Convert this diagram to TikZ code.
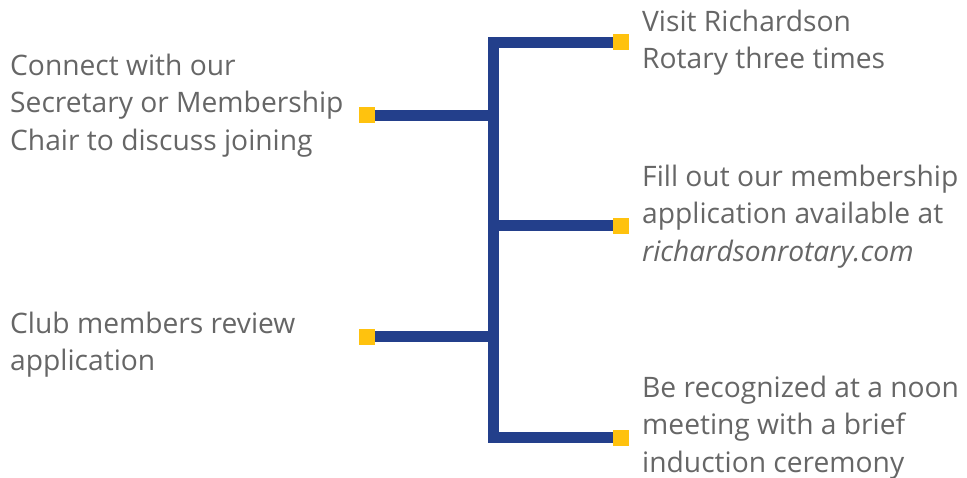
\documentclass[tikz,border=0pt]{standalone}
\usepackage{fontspec}
\setmainfont{Open Sans}
\definecolor{rblue}{HTML}{233F8B}
\definecolor{ryellow}{HTML}{FFC20E}
\definecolor{rgrey}{HTML}{666666}
\begin{document}
\begin{tikzpicture}[x=1pt,y=-1pt,
  sq/.style={fill=ryellow,draw=none,minimum size=16pt,inner sep=0pt},
  bar/.style={draw=rblue,line width=11pt,line join=miter},
  lbl/.style={text=rgrey,font=\fontsize{28.2}{37.5}\selectfont,align=left,anchor=west,inner sep=0pt}]
\useasboundingbox (0,0) rectangle (967,478);
\node[sq] (r1) at (621,42.5) {};
\node[sq] (r2) at (621,226) {};
\node[sq] (r3) at (621,437.5) {};
\node[sq] (l1) at (366.5,115.5) {};
\node[sq] (l2) at (366.5,337) {};
\coordinate (jt) at (493,42.5);
\coordinate (jb) at (493,437.5);
\coordinate (j2) at (493,226);
\coordinate (jl1) at (498.5,115.5);
\coordinate (jl2) at (498.5,337);
\draw[bar] (r1.west) -- (jt) -- (jb) -- (r3.west);
\draw[bar] (j2) -- (r2.west);
\draw[bar] (l1.east) -- (jl1);
\draw[bar] (l2.east) -- (jl2);
\node[lbl] (t1) at (10,105.5) {Connect with our\\Secretary or Membership\\Chair to discuss joining};
\node[lbl] (t2) at (10,344.5) {Club members review\\application};
\node[lbl] (t3) at (642,42.5) {Visit Richardson\\Rotary three times};
\node[lbl] (t4) at (642,216.5) {Fill out our membership\\application available at\\\textit{richardsonrotary.com}};
\node[lbl] (t5) at (642,427.5) {Be recognized at a noon\\meeting with a brief\\induction ceremony};
\end{tikzpicture}
\end{document}
